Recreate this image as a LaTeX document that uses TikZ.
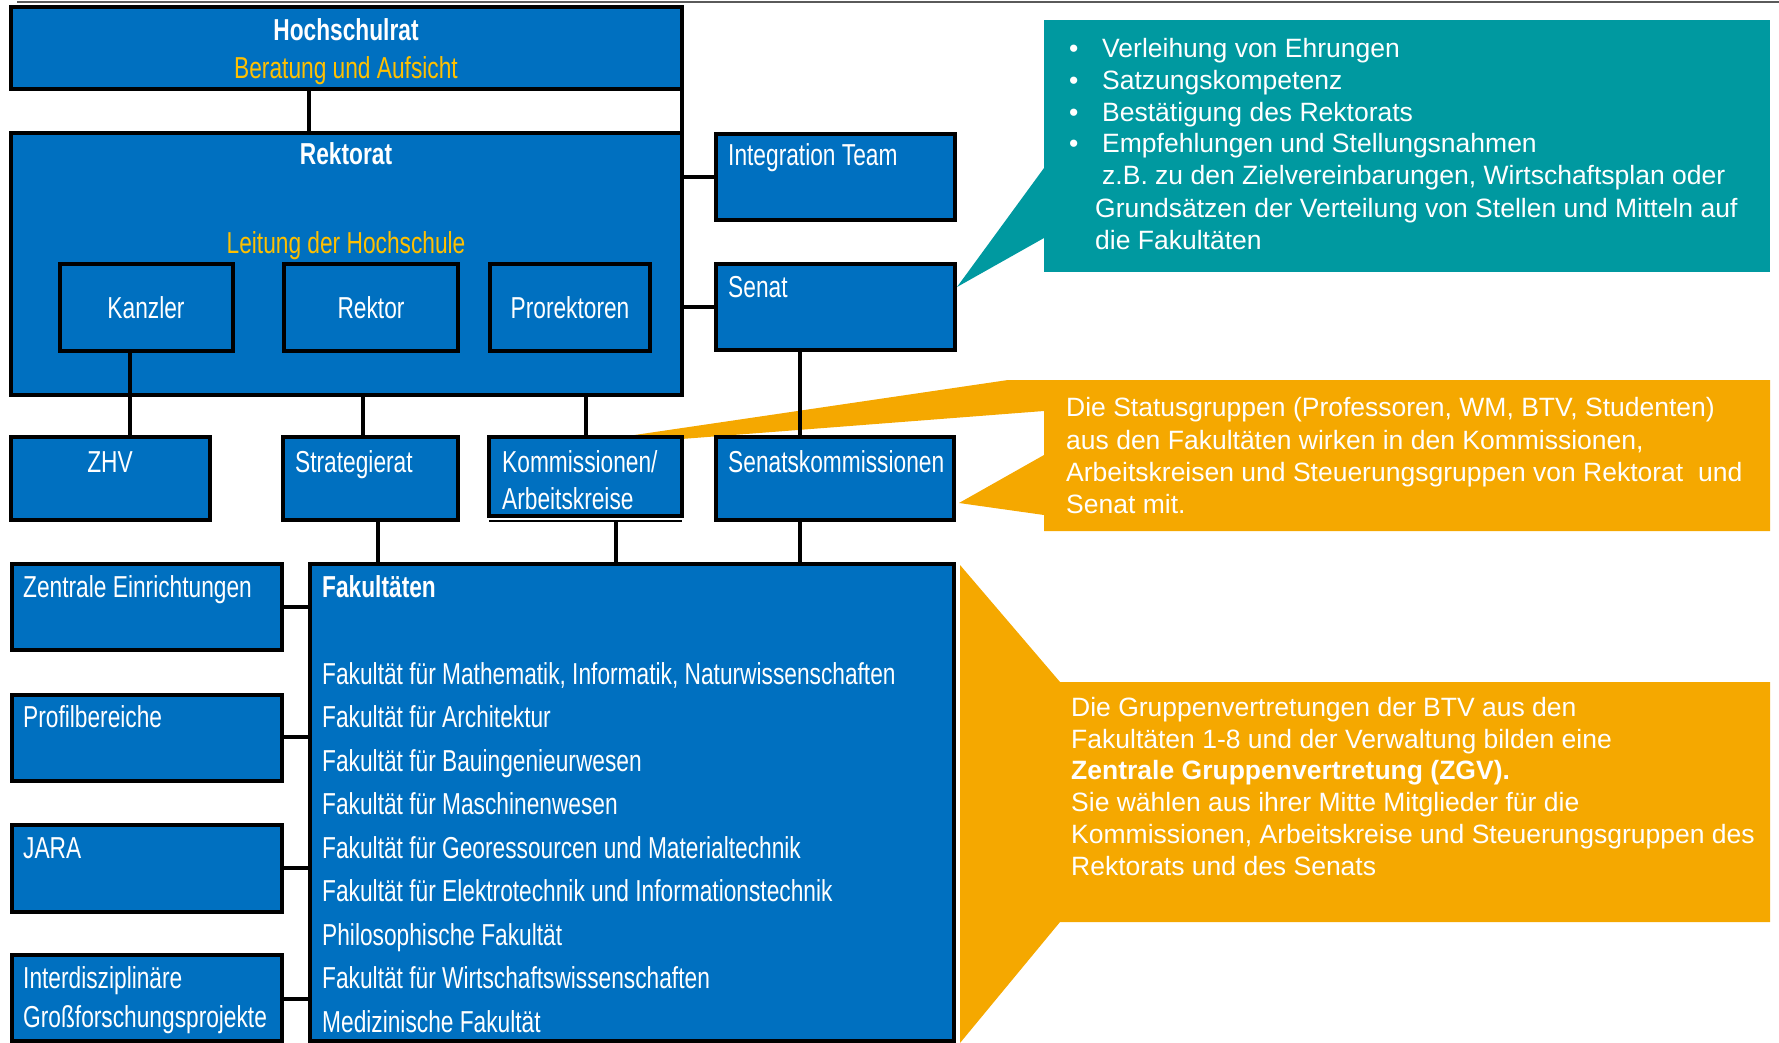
\documentclass[tikz,border=0pt]{standalone}
\usepackage{fontspec}
\setmainfont{Liberation Sans}
\newfontfamily\narrowfont{Liberation Sans}[FakeStretch=0.75]
\definecolor{boxblue}{RGB}{0,112,192}
\definecolor{gold}{RGB}{255,192,0}
\definecolor{tealc}{RGB}{0,153,160}
\definecolor{orng}{RGB}{245,168,0}
\definecolor{topgray}{RGB}{90,90,90}
\tikzset{
  box/.style={draw=black, line width=4pt, fill=boxblue, inner sep=0pt, outer sep=0pt, anchor=north west},
  conn/.style={draw=black, line width=3.5pt},
  bt/.style={font=\narrowfont\fontsize{30.3}{38}\selectfont, text=white, inner sep=0pt, anchor=base west},
  btc/.style={bt, anchor=base},
  bbt/.style={bt, font=\narrowfont\bfseries\fontsize{30.3}{38}\selectfont},
  bbtc/.style={bbt, anchor=base},
  gt/.style={btc, text=gold},
  ct/.style={font=\fontsize{26.5}{32}\selectfont, text=white, inner sep=0pt, anchor=base west},
}
\begin{document}
\begin{tikzpicture}[x=1pt,y=-1pt]
\useasboundingbox (0,0) rectangle (1779,1043);
% top rule
\draw[line width=2pt, topgray] (17,2) -- (1779,2);
% callouts
\fill[tealc] (1044,20) rectangle (1770,272);
\fill[tealc] (1044,168) -- (957,287) -- (1044,238) -- cycle;
\fill[orng] (526,451) -- (1008,380) -- (1770,380) -- (1770,531) -- (1044,531) -- (1044,515) -- (959,503) -- (1044,455) -- (1044,411) -- cycle;
\fill[orng] (960,565) -- (1060,682) -- (1770,682) -- (1770,922) -- (1060,922) -- (960,1043) -- cycle;
% boxes
\node[box, minimum width=671pt, minimum height=82pt] (hsr) at (11,7) {};
\node[box, minimum width=671pt, minimum height=262pt] (rek) at (11,133) {};
\node[box, minimum width=173pt, minimum height=87pt] (kanzler) at (60,264) {};
\node[box, minimum width=174pt, minimum height=87pt] (rektor) at (284,264) {};
\node[box, minimum width=160pt, minimum height=87pt] (prorek) at (490,264) {};
\node[box, minimum width=239pt, minimum height=86pt] (integ) at (716,134) {};
\node[box, minimum width=239pt, minimum height=86pt] (senat) at (716,264) {};
\node[box, minimum width=199pt, minimum height=83pt] (zhv) at (11,437) {};
\node[box, minimum width=175pt, minimum height=83pt] (strat) at (283,437) {};
\node[box, minimum width=193pt, minimum height=79pt] (komm) at (489,437) {};
\node[box, minimum width=238pt, minimum height=83pt] (senk) at (716,437) {};
\node[box, minimum width=270pt, minimum height=86pt] (zentral) at (12,564) {};
\node[box, minimum width=644pt, minimum height=477pt] (fak) at (310,564) {};
\node[box, minimum width=270pt, minimum height=86pt] (profil) at (12,695) {};
\node[box, minimum width=270pt, minimum height=87pt] (jara) at (12,825) {};
\node[box, minimum width=270pt, minimum height=86pt] (inter) at (12,955) {};
\draw[line width=2pt] ([yshift=-5pt]komm.south west) -- ([yshift=-5pt]komm.south east);
% connectors
\draw[conn] ([xshift=298pt]hsr.south west) -- ([xshift=298pt]rek.north west);
\draw[conn] (hsr.south east) -- (rek.north east);
\draw[conn] ([yshift=-43pt]integ.north west) -- ([yshift=-43pt]integ.north west -| rek.east);
\draw[conn] ([yshift=-43pt]senat.north west) -- ([yshift=-43pt]senat.north west -| rek.east);
\draw[conn] ([xshift=70pt]kanzler.south west) -- ([xshift=70pt]kanzler.south west |- zhv.north);
\draw[conn] ([xshift=80pt]strat.north west |- rek.south) -- ([xshift=80pt]strat.north west);
\draw[conn] ([xshift=97pt]komm.north west |- rek.south) -- ([xshift=97pt]komm.north west);
\draw[conn] ([xshift=84pt]senat.south west) -- ([xshift=84pt]senk.north west);
\draw[conn] ([xshift=95pt]strat.south west) -- ([xshift=95pt]strat.south west |- fak.north);
\draw[conn] ([xshift=127pt,yshift=-5pt]komm.south west) -- ([xshift=127pt]komm.south west |- fak.north);
\draw[conn] ([xshift=84pt]senk.south west) -- ([xshift=84pt]senk.south west |- fak.north);
\draw[conn] ([yshift=-43pt]zentral.north east) -- ([yshift=-43pt]zentral.north east -| fak.west);
\draw[conn] ([yshift=-42pt]profil.north east) -- ([yshift=-42pt]profil.north east -| fak.west);
\draw[conn] ([yshift=-43pt]jara.north east) -- ([yshift=-43pt]jara.north east -| fak.west);
\draw[conn] ([yshift=-44pt]inter.north east) -- ([yshift=-44pt]inter.north east -| fak.west);
% box texts
\node[bbtc] (thsr) at (346,41) {Hochschulrat};
\node[gt] (tber) at (346,79) {Beratung und Aufsicht};
\node[bbtc] (trek) at (346,165) {Rektorat};
\node[gt] (tlei) at (346,253) {Leitung der Hochschule};
\node[btc] (tkan) at (146,318) {Kanzler};
\node[btc] (trkt) at (371,318) {Rektor};
\node[btc] (tpro) at (570,318) {Prorektoren};
\node[bt] (tint) at (728,166) {Integration Team};
\node[bt] (tsen) at (728,297) {Senat};
\node[btc] (tzhv) at (110,472) {ZHV};
\node[bt] (tstr) at (295,472) {Strategierat};
\node[bt] (tkom1) at (502,472) {Kommissionen/};
\node[bt] (tkom2) at (502,509) {Arbeitskreise};
\node[bt] (tsnk) at (728,472) {Senatskommissionen};
\node[bt] (tzen) at (23,597) {Zentrale Einrichtungen};
\node[bbt] (tfak) at (322,597) {Fakultäten};
\node[bt] (tf1) at (322,684) {Fakultät für Mathematik, Informatik, Naturwissenschaften};
\node[bt] (tf2) at (322,727.5) {Fakultät für Architektur};
\node[bt] (tf3) at (322,771) {Fakultät für Bauingenieurwesen};
\node[bt] (tf4) at (322,814.5) {Fakultät für Maschinenwesen};
\node[bt] (tf5) at (322,858) {Fakultät für Georessourcen und Materialtechnik};
\node[bt] (tf6) at (322,901.5) {Fakultät für Elektrotechnik und Informationstechnik};
\node[bt] (tf7) at (322,945) {Philosophische Fakultät};
\node[bt] (tf8) at (322,988.5) {Fakultät für Wirtschaftswissenschaften};
\node[bt] (tf9) at (322,1032) {Medizinische Fakultät};
\node[bt] (tpb) at (23,727) {Profilbereiche};
\node[bt] (tjara) at (23,858) {JARA};
\node[bt] (tint1) at (23,988) {Interdisziplinäre};
\node[bt] (tint2) at (23,1027) {Großforschungsprojekte};
% teal callout text
\node[ct] (c1) at (1069,58) {\makebox[33pt][l]{•}Verleihung von Ehrungen};
\node[ct] (c2) at (1069,90) {\makebox[33pt][l]{•}Satzungskompetenz};
\node[ct] (c3) at (1069,122) {\makebox[33pt][l]{•}Bestätigung des Rektorats};
\node[ct] (c4) at (1069,153) {\makebox[33pt][l]{•}Empfehlungen und Stellungsnahmen};
\node[ct] (c5) at (1102,185) {z.B. zu den Zielvereinbarungen, Wirtschaftsplan oder};
\node[ct] (c6) at (1095,217) {Grundsätzen der Verteilung von Stellen und Mitteln auf};
\node[ct] (c7) at (1095,249) {die Fakultäten};
% orange callout 1
\node[ct] (s1) at (1066,416) {Die Statusgruppen (Professoren, WM, BTV, Studenten)};
\node[ct] (s2) at (1066,449) {aus den Fakultäten wirken in den Kommissionen,};
\node[ct] (s3) at (1066,481) {Arbeitskreisen und Steuerungsgruppen von Rektorat\ \ und};
\node[ct] (s4) at (1066,513) {Senat mit.};
% orange callout 2
\node[ct] (g1) at (1071,716) {Die Gruppenvertretungen der BTV aus den};
\node[ct] (g2) at (1071,748) {Fakultäten 1-8 und der Verwaltung bilden eine};
\node[ct, font=\bfseries\fontsize{26.5}{32}\selectfont] (g3) at (1071,779) {Zentrale Gruppenvertretung (ZGV).};
\node[ct] (g4) at (1071,811) {Sie wählen aus ihrer Mitte Mitglieder für die};
\node[ct] (g5) at (1071,843) {Kommissionen, Arbeitskreise und Steuerungsgruppen des};
\node[ct] (g6) at (1071,875) {Rektorats und des Senats};
\end{tikzpicture}
\end{document}
